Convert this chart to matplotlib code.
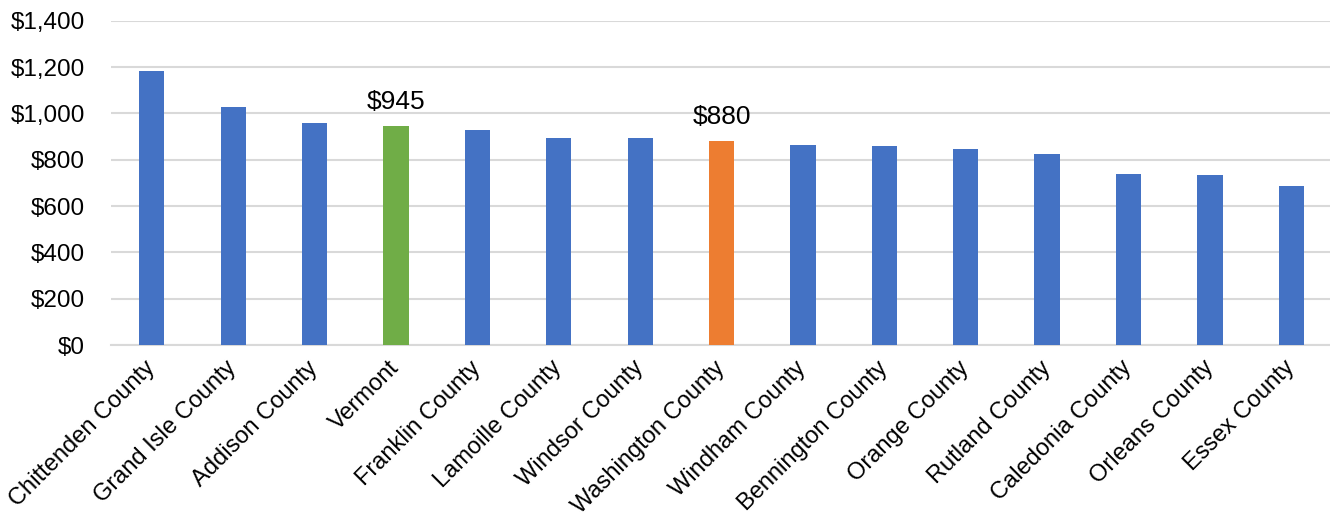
import matplotlib.pyplot as plt
import numpy as np

plt.rcParams['font.family'] = ['Liberation Sans', 'DejaVu Sans']

# Average weekly wage by county, with the statewide figure included
counties = ['Chittenden County', 'Grand Isle County', 'Addison County', 'Vermont',
            'Franklin County', 'Lamoille County', 'Windsor County', 'Washington County',
            'Windham County', 'Bennington County', 'Orange County', 'Rutland County',
            'Caledonia County', 'Orleans County', 'Essex County']
wages = [1185, 1027, 958, 945, 929, 894, 893, 880, 862, 858, 846, 825, 738, 736, 688]

# bars that get highlighted and labelled
highlight = {'Vermont': '#70AD47', 'Washington County': '#ED7D31'}

colors = [highlight.get(c, '#4472C4') for c in counties]
x = np.arange(len(counties))

fig = plt.figure(figsize=(13.3, 5.19), dpi=100)
ax = fig.add_axes([0.0835, 0.335, 0.918, 0.625])

bars = ax.bar(x, wages, width=0.31, color=colors, zorder=3)

for i, c in enumerate(counties):
    if c in highlight:
        ax.annotate(f'${wages[i]:,}', (x[i], wages[i]), xytext=(0, 9),
                    textcoords='offset points', ha='center', va='bottom',
                    fontsize=19)

ax.set_xlim(-0.5, len(counties) - 0.5)
ax.set_ylim(0, 1400)
ax.set_yticks(np.arange(0, 1401, 200))
ax.set_yticklabels([f'${v:,}' for v in range(0, 1401, 200)], fontsize=17.5)
ax.set_xticks(x)
ax.set_xticklabels(counties, rotation=45, ha='right', va='center',
                   rotation_mode='anchor', fontsize=17)
ax.tick_params(length=0)
ax.tick_params(axis='y', pad=19)
ax.tick_params(axis='x', pad=14)

ax.grid(axis='y', color='#d9d9d9', linewidth=1.5, zorder=0)
for side in ['top', 'right', 'left']:
    ax.spines[side].set_visible(False)
ax.spines['bottom'].set_color('#d9d9d9')
ax.spines['bottom'].set_linewidth(1.5)

fig.savefig('out.png', dpi=100)
